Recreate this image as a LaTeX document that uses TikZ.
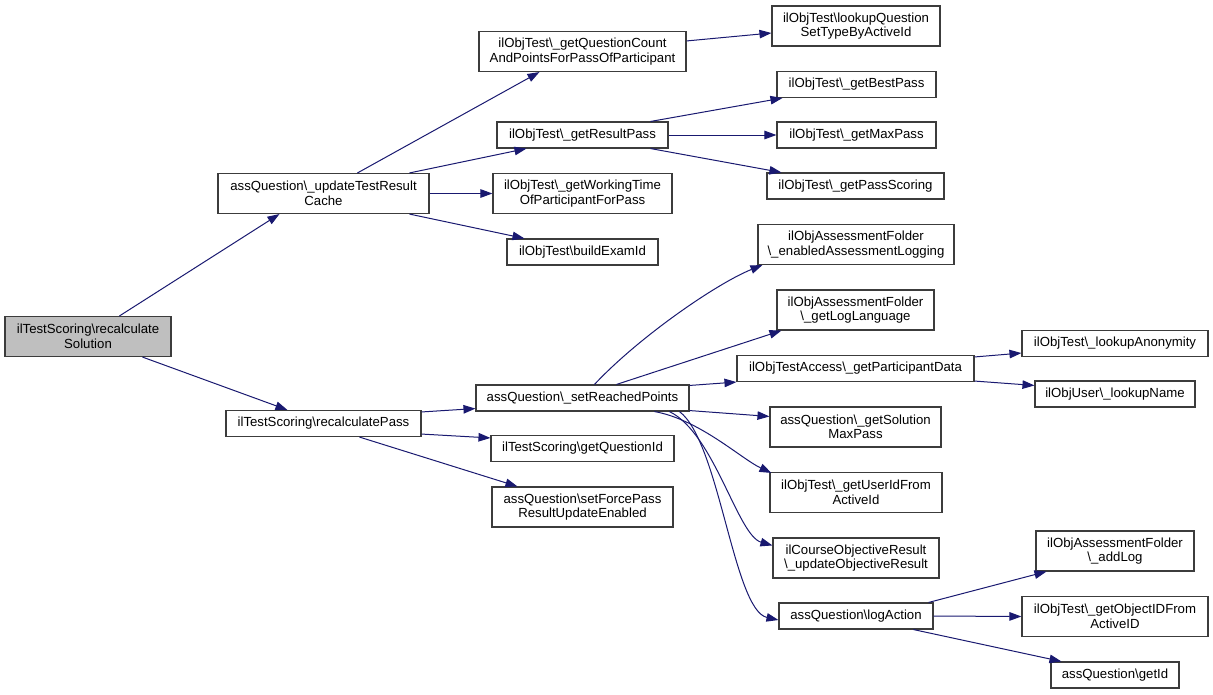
\documentclass[tikz,border=0pt]{standalone}
\usepackage{fontspec}
\setmainfont{Liberation Sans}
\usetikzlibrary{arrows.meta}
\definecolor{edgeblue}{RGB}{25,25,112}
\definecolor{rootgray}{RGB}{191,191,191}
\definecolor{boxline}{RGB}{60,60,60}
\newcommand{\bs}{\textbackslash{}}
\begin{document}
\begin{tikzpicture}[x=1pt,y=-1pt,
  box/.style={draw=boxline,line width=1.1pt,fill=white,inner sep=0pt,align=center,
    font=\fontsize{13.2}{14.5}\selectfont},
  sbox/.style={box,minimum height=26pt},
  dbox/.style={box,minimum height=40pt},
  edge/.style={draw=edgeblue,line width=1pt,-{Triangle[length=12pt,width=8.5pt]}}]
\useasboundingbox (0,0) rectangle (1213,694);
% nodes
\node[dbox,fill=rootgray,minimum width=166pt] (root) at (88,336.5) {ilTestScoring\bs recalculate\\Solution};
\node[dbox,minimum width=211pt] (cache) at (323.5,193.5) {assQuestion\bs\_updateTestResult\\Cache};
\node[sbox,minimum width=195pt] (rpass) at (323.5,423.5) {ilTestScoring\bs recalculatePass};
\node[dbox,minimum width=207pt] (qc) at (582.5,51.5) {ilObjTest\bs\_getQuestionCount\\AndPointsForPassOfParticipant};
\node[dbox,minimum width=168pt] (lq) at (856,26) {ilObjTest\bs lookupQuestion\\SetTypeByActiveId};
\node[sbox,minimum width=171pt] (res) at (582.5,135) {ilObjTest\bs\_getResultPass};
\node[dbox,minimum width=179pt] (wt) at (582.5,193.5) {ilObjTest\bs\_getWorkingTime\\OfParticipantForPass};
\node[sbox,minimum width=151pt] (be) at (582.5,252) {ilObjTest\bs buildExamId};
\node[sbox,minimum width=159pt] (bp) at (856.5,84.5) {ilObjTest\bs\_getBestPass};
\node[sbox,minimum width=159pt] (mp) at (856.5,135) {ilObjTest\bs\_getMaxPass};
\node[sbox,minimum width=177pt] (ps) at (855.5,186) {ilObjTest\bs\_getPassScoring};
\node[dbox,minimum width=196pt] (el) at (856,244.5) {ilObjAssessmentFolder\\\bs\_enabledAssessmentLogging};
\node[dbox,minimum width=157pt] (ll) at (855.5,310) {ilObjAssessmentFolder\\\bs\_getLogLanguage};
\node[sbox,minimum width=237pt] (pd) at (855.5,368.5) {ilObjTestAccess\bs\_getParticipantData};
\node[sbox,minimum width=213pt] (sr) at (582.5,398) {assQuestion\bs\_setReachedPoints};
\node[sbox,minimum width=183pt] (gq) at (582.5,448.5) {ilTestScoring\bs getQuestionId};
\node[dbox,minimum width=181pt] (sf) at (582.5,507) {assQuestion\bs setForcePass\\ResultUpdateEnabled};
\node[dbox,minimum width=171pt] (sm) at (855.5,427) {assQuestion\bs\_getSolution\\MaxPass};
\node[dbox,minimum width=172pt] (ui) at (856,492.5) {ilObjTest\bs\_getUserIdFrom\\ActiveId};
\node[dbox,minimum width=166pt] (uo) at (856,558) {ilCourseObjectiveResult\\\bs\_updateObjectiveResult};
\node[sbox,minimum width=154pt] (la) at (856,616) {assQuestion\bs logAction};
\node[sbox,minimum width=186pt] (an) at (1115,343.5) {ilObjTest\bs\_lookupAnonymity};
\node[sbox,minimum width=160pt] (ln) at (1115,394) {ilObjUser\bs\_lookupName};
\node[dbox,minimum width=158pt] (al) at (1115,551) {ilObjAssessmentFolder\\\bs\_addLog};
\node[dbox,minimum width=186pt] (oi) at (1115,616.5) {ilObjTest\bs\_getObjectIDFrom\\ActiveID};
\node[sbox,minimum width=128pt] (gi) at (1115,675) {assQuestion\bs getId};
% edges
\draw[edge] ([xshift=115pt]root.north west) -- ([xshift=62pt]cache.south west);
\draw[edge] ([xshift=138pt]root.south west) -- ([xshift=62pt]rpass.north west);
\draw[edge] ([xshift=140pt]cache.north west) -- ([xshift=61pt]qc.south west);
\draw[edge] ([xshift=192pt]cache.north west) -- ([xshift=30pt]res.south west);
\draw[edge] (cache.east) -- (wt.west);
\draw[edge] ([xshift=192pt]cache.south west) -- ([xshift=18pt]be.north west);
\draw[edge] ([yshift=-10pt]qc.north east) -- ([yshift=-7pt]lq.west);
\draw[edge] ([xshift=-18pt]res.north east) -- ([xshift=6pt]bp.south west);
\draw[edge] (res.east) -- (mp.west);
\draw[edge] ([xshift=-18pt]res.south east) -- ([xshift=15pt]ps.north west);
\draw[edge] ([yshift=-2pt]rpass.north east) -- ([yshift=3pt]sr.south west);
\draw[edge] ([yshift=3pt]rpass.south east) -- ([yshift=-3pt]gq.north west);
\draw[edge] ([xshift=134pt]rpass.south west) -- ([xshift=26pt]sf.north west);
\draw[edge] ([xshift=119pt]sr.north west) .. controls +(45,-48) and +(-45,18) .. ([xshift=5pt]el.south west);
\draw[edge] ([xshift=141pt]sr.north west) -- ([xshift=5pt]ll.south west);
\draw[edge] ([yshift=-1pt]sr.north east) -- (pd.south west);
\draw[edge] ([yshift=1pt]sr.south east) -- ([yshift=-10pt]sm.north west);
\draw[edge] ([xshift=179pt]sr.south west) .. controls +(45,8) and +(-30,-14) .. ([xshift=2pt,yshift=-1pt]ui.north west);
\draw[edge] ([xshift=194pt]sr.south west) .. controls +(45,22) and +(-35,-10) .. ([yshift=-8pt]uo.north west);
\draw[edge] ([xshift=204pt]sr.south west) .. controls +(40,30) and +(-45,-10) .. ([yshift=-4pt]la.west);
\draw[edge] ([yshift=-2pt]pd.north east) -- ([yshift=4pt]an.south west);
\draw[edge] ([yshift=1pt]pd.south east) -- ([yshift=-5pt]ln.north west);
\draw[edge] ([xshift=-5pt]la.north east) -- ([xshift=11pt]al.south west);
\draw[edge] (la.east) -- (oi.west);
\draw[edge] ([xshift=135pt]la.south west) -- ([xshift=11pt]gi.north west);
\end{tikzpicture}
\end{document}
